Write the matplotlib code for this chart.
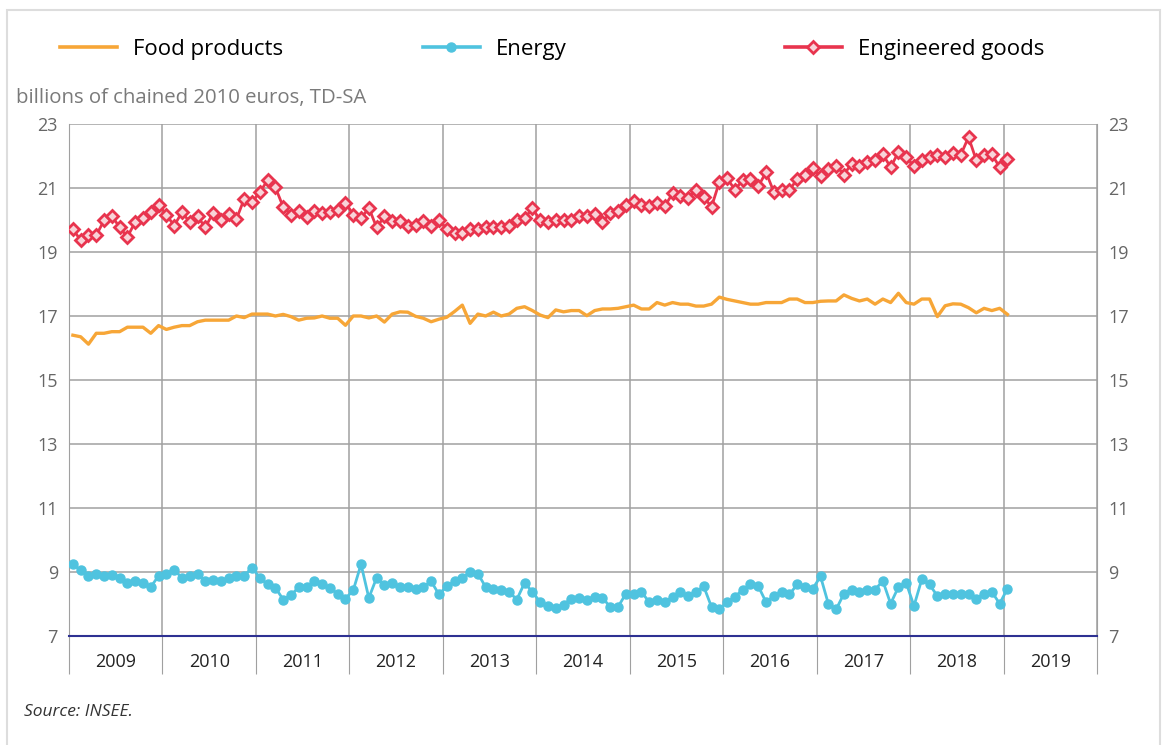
import numpy as np
import matplotlib
matplotlib.use("Agg")
import matplotlib.pyplot as plt
from matplotlib.lines import Line2D
from matplotlib.patches import Rectangle

plt.rcParams['font.family'] = ['Open Sans', 'DejaVu Sans']

# monthly series, Jan 2009 -> Jan 2019
food = [16.40, 16.35, 16.12, 16.46, 16.46, 16.51, 16.51, 16.65, 16.65, 16.65, 16.46, 16.70,
        16.58, 16.65, 16.70, 16.70, 16.82, 16.87, 16.87, 16.87, 16.87, 17.00, 16.95, 17.06,
        17.06, 17.06, 17.00, 17.05, 16.98, 16.87, 16.93, 16.94, 17.00, 16.93, 16.93, 16.71,
        17.00, 17.00, 16.94, 17.00, 16.81, 17.06, 17.13, 17.12, 16.99, 16.93, 16.82, 16.90,
        16.96, 17.14, 17.34, 16.77, 17.06, 17.00, 17.12, 17.00, 17.06, 17.24, 17.29, 17.17,
        17.03, 16.95, 17.19, 17.13, 17.17, 17.17, 17.01, 17.17, 17.22, 17.22, 17.24, 17.29,
        17.34, 17.22, 17.22, 17.42, 17.34, 17.42, 17.37, 17.37, 17.31, 17.31, 17.37, 17.59,
        17.52, 17.47, 17.42, 17.37, 17.37, 17.42, 17.42, 17.42, 17.53, 17.53, 17.42, 17.42,
        17.46, 17.47, 17.47, 17.66, 17.55, 17.47, 17.53, 17.37, 17.53, 17.42, 17.71, 17.42,
        17.37, 17.53, 17.53, 16.98, 17.32, 17.38, 17.37, 17.26, 17.10, 17.24, 17.17, 17.24,
        17.05]

energy = [9.24, 9.05, 8.88, 8.95, 8.88, 8.90, 8.82, 8.67, 8.71, 8.67, 8.53, 8.88,
          8.95, 9.07, 8.82, 8.88, 8.95, 8.71, 8.76, 8.71, 8.81, 8.88, 8.88, 9.14,
          8.82, 8.61, 8.51, 8.14, 8.27, 8.53, 8.53, 8.72, 8.61, 8.50, 8.32, 8.17,
          8.43, 9.24, 8.19, 8.82, 8.58, 8.66, 8.53, 8.53, 8.48, 8.53, 8.71, 8.30,
          8.55, 8.71, 8.82, 9.00, 8.95, 8.53, 8.48, 8.43, 8.38, 8.14, 8.66, 8.38,
          8.06, 7.93, 7.89, 7.98, 8.17, 8.20, 8.13, 8.22, 8.19, 7.91, 7.91, 8.32,
          8.32, 8.38, 8.06, 8.14, 8.06, 8.22, 8.38, 8.25, 8.38, 8.55, 7.91, 7.83,
          8.06, 8.22, 8.45, 8.61, 8.56, 8.06, 8.25, 8.38, 8.30, 8.61, 8.53, 8.48,
          8.86, 8.01, 7.83, 8.32, 8.45, 8.38, 8.45, 8.45, 8.72, 8.01, 8.53, 8.66,
          7.94, 8.77, 8.61, 8.25, 8.32, 8.32, 8.32, 8.32, 8.17, 8.32, 8.38, 8.01,
          8.48]

goods = [19.72, 19.36, 19.54, 19.52, 19.99, 20.13, 19.77, 19.47, 19.94, 20.06, 20.24, 20.48,
         20.17, 19.82, 20.24, 19.94, 20.11, 19.77, 20.22, 20.01, 20.19, 20.03, 20.66, 20.56,
         20.87, 21.24, 21.02, 20.41, 20.17, 20.27, 20.09, 20.28, 20.22, 20.25, 20.32, 20.54,
         20.17, 20.05, 20.38, 19.77, 20.11, 19.96, 19.96, 19.81, 19.85, 19.96, 19.81, 20.01,
         19.72, 19.59, 19.60, 19.73, 19.73, 19.78, 19.78, 19.78, 19.82, 20.00, 20.05, 20.36,
         20.00, 19.94, 20.00, 20.00, 19.99, 20.11, 20.11, 20.20, 19.94, 20.23, 20.29, 20.48,
         20.60, 20.47, 20.45, 20.54, 20.43, 20.83, 20.76, 20.68, 20.95, 20.72, 20.41, 21.18,
         21.30, 20.95, 21.24, 21.28, 21.05, 21.49, 20.88, 20.93, 20.93, 21.28, 21.42, 21.61,
         21.36, 21.60, 21.70, 21.42, 21.76, 21.68, 21.82, 21.89, 22.05, 21.65, 22.12, 21.97,
         21.68, 21.87, 21.97, 22.03, 21.97, 22.10, 22.03, 22.59, 21.87, 22.03, 22.05, 21.65,
         21.91]

years = list(range(2009, 2020))
labels = ["Food products", "Energy", "Engineered goods"]

# x position: middle of each month
months = np.arange(len(food))
x = 2009 + (months + 0.5) / 12.0

c_food = '#f7a637'
c_energy = '#4fc3df'
c_goods = '#e8344e'

fig = plt.figure(figsize=(11.67, 7.45), dpi=100)
ax = fig.add_axes([69/1167, 109/745, 1028/1167, 512/745])

ax.plot(x, food, color=c_food, lw=2.4, zorder=3)
ax.plot(x, energy, color=c_energy, lw=2.0, marker='o', ms=6.5,
        mfc=c_energy, mec=c_energy, zorder=3)
ax.plot(x, goods, color=c_goods, lw=2.0, marker='D', ms=6, mew=2.0,
        mfc='#f8d3d8', mec=c_goods, zorder=4)

ax.set_xlim(2009, 2020)
ax.set_ylim(7, 23)

# grille
ax.set_yticks(np.arange(7, 24, 2))
ax.grid(axis='y', color='#a0a0a0', lw=1.1, zorder=1)
ax.set_xticks(np.arange(2009, 2021))
ax.set_xticks(np.array(years) + 0.5, minor=True)
ax.set_xticklabels(years, minor=True)
ax.set_xticklabels([])
ax.grid(axis='x', which='major', color='#a0a0a0', lw=1.1, zorder=1)
ax.tick_params(axis='x', which='major', length=27.5, width=0.8, color='#a0a0a0')
ax.tick_params(axis='x', which='minor', length=0, pad=12, labelsize=13, labelcolor='#222222')
ax.tick_params(axis='y', length=0, pad=8, labelsize=13, labelcolor='#666666',
               right=True, labelright=True)

for s in ['left', 'right']:
    ax.spines[s].set_color('#a0a0a0')
    ax.spines[s].set_linewidth(0.8)
ax.spines['top'].set_visible(False)
ax.spines['bottom'].set_color('#2e3192')
ax.spines['bottom'].set_linewidth(1.5)
ax.spines['bottom'].set_zorder(5)

# legende (une par entree pour garder l'espacement)
handles = [Line2D([], [], color=c_food, lw=2.6),
           Line2D([], [], color=c_energy, lw=2.6, marker='o', ms=6.5, mfc=c_energy, mec=c_energy),
           Line2D([], [], color=c_goods, lw=2.6, marker='D', ms=6, mew=2.0, mfc='#f8d3d8', mec=c_goods)]
legx = [60, 423, 785]
for h, lab, lx in zip(handles, labels, legx):
    fig.legend([h], [lab], loc='center left', bbox_to_anchor=(lx/1167, 1 - 49/745),
               frameon=False, fontsize=16, handlelength=2.55, handletextpad=0.72,
               borderaxespad=0, borderpad=0)

fig.text(16/1167, 1 - 98/745, "billions of chained 2010 euros, TD-SA",
         fontsize=14.7, color='#7a7a7a', va='center', ha='left')
fig.text(24/1167, 1 - 712/745, "Source: INSEE.", fontsize=12.5, color='#333333',
         style='italic', va='center', ha='left')

fig.patches.append(Rectangle((7/1167, -0.05), 1153/1167, 1.05 - 10/745,
                             transform=fig.transFigure, fill=False,
                             edgecolor='#dddddd', lw=1.5))

fig.savefig("out.png", dpi=100)
